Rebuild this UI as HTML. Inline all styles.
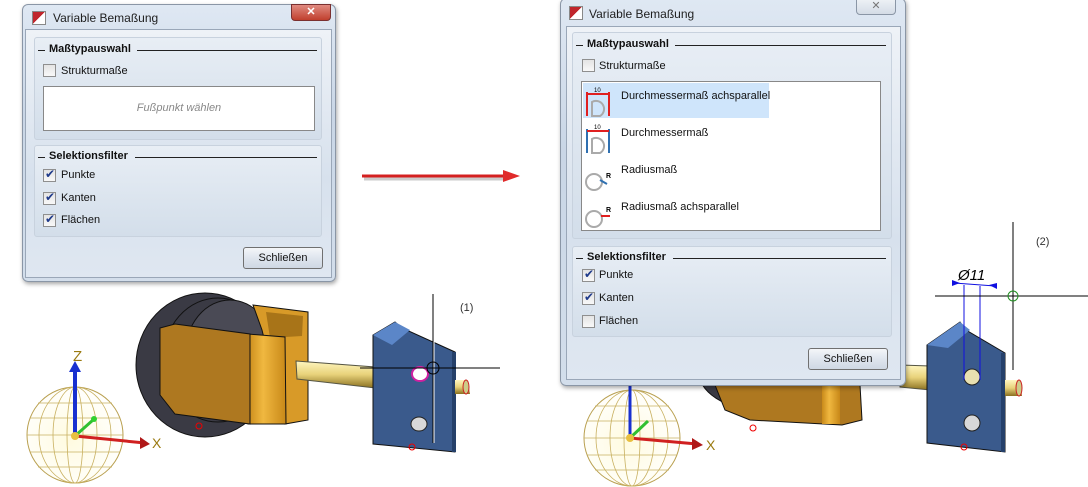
<!DOCTYPE html>
<html><head><meta charset="utf-8">
<style>
*{margin:0;padding:0;box-sizing:border-box}
body{width:1088px;height:487px;background:#fff;position:relative;overflow:hidden;font-family:"Liberation Sans",sans-serif;font-size:11px;color:#111}
.abs{position:absolute}
.dlg{position:absolute;border:1px solid #8a96a6;border-radius:6px;background:linear-gradient(#dfe8f3,#c9d6e6 40%,#d3deeb);box-shadow:1px 2px 4px rgba(0,0,0,.35)}
.body{position:absolute;border:1px solid #9aa7b8;background:linear-gradient(#eef2f7,#d7e1ed 60%,#dfe7f1)}
.grp{position:absolute;border:1px solid #c8d2de;border-radius:3px;background:linear-gradient(#e8eef5,#d3deea)}
.gt{position:absolute;font-weight:bold;font-size:11px;white-space:nowrap}
.line{position:absolute;height:1px;background:#222}
.cb{position:absolute;width:13px;height:13px;border:1px solid #8f8f8f;background:linear-gradient(#e4e4e4,#f8f8f8)}
.cb.on::after{content:"✔";position:absolute;left:1px;top:-3px;font-size:12px;color:#1f3a8a}
.lbl{position:absolute;white-space:nowrap;font-size:11px}
.btn{position:absolute;border:1px solid #707070;border-radius:3px;background:linear-gradient(#f4f6f9,#dfe5ee 50%,#cfd8e4);text-align:center;font-size:11px;line-height:20px}
.title{position:absolute;font-size:12px;color:#1e1e1e;white-space:nowrap}
.icon{position:absolute;width:14px;height:14px;background:linear-gradient(135deg,#c0262c 50%,#fff 50%);border:1px solid #888}
</style></head><body>

<svg class="abs" style="left:0;top:0" width="1088" height="487">
<defs>
<linearGradient id="rod" x1="0" y1="0" x2="0" y2="1"><stop offset="0" stop-color="#fff6c0"/><stop offset=".5" stop-color="#e8d27a"/><stop offset="1" stop-color="#8a7020"/></linearGradient>
<linearGradient id="side" x1="0" y1="0" x2="1" y2="0"><stop offset="0" stop-color="#c98a1a"/><stop offset=".4" stop-color="#f0b840"/><stop offset="1" stop-color="#c88818"/></linearGradient>
<radialGradient id="sph" cx=".45" cy=".55" r=".6"><stop offset="0" stop-color="#fffbe0"/><stop offset="1" stop-color="#fff"/></radialGradient>
</defs>
<!-- arrow -->
<line x1="364" y1="179" x2="506" y2="179" stroke="#999" stroke-width="3" opacity=".5"/>
<line x1="362" y1="176" x2="506" y2="176" stroke="#d42020" stroke-width="3"/>
<polygon points="503,170 520,176 503,182" fill="#e02a2a"/>

<!-- LEFT 3D -->
<g>
<ellipse cx="205" cy="365" rx="69" ry="72" fill="#3a3a44" stroke="#111"/>
<ellipse cx="218" cy="360" rx="55" ry="62" fill="none" stroke="#111"/>
<ellipse cx="230" cy="355" rx="45" ry="55" fill="#4a4a55" stroke="#111"/>
<polygon points="253,305 308,312 308,420 285,424 262,330" fill="#d89a28" stroke="#111"/>
<polygon points="266,312 303,316 302,336 270,338" fill="#a87418"/>
<polygon points="248,334 285,337 286,424 248,424" fill="url(#side)" stroke="#111"/>
<polygon points="160,328 175,324 250,334 250,424 175,414 160,395" fill="#ae7820" stroke="#111"/>
<polygon points="296,361 375,367 375,388 297,379" fill="url(#rod)" stroke="#554"/>
<polygon points="373,335 395,322 402,328 455,352 455,452 373,444" fill="#3a5a8c" stroke="#111"/>
<polygon points="373,335 395,322 410,330 392,345" fill="#5b86c8"/>
<polygon points="452,352 456,352 456,452 452,452" fill="#25406a"/>
<ellipse cx="420" cy="374" rx="8" ry="7" fill="#fff" stroke="#d020a0" stroke-width="2"/>
<ellipse cx="419" cy="424" rx="8" ry="7" fill="#d8d8d8" stroke="#222"/>
<polygon points="455,380 468,380 470,394 455,394" fill="url(#rod)"/>
<ellipse cx="466" cy="387" rx="3" ry="7" fill="#cc8" stroke="#c22"/>
<circle cx="199" cy="426" r="3" fill="none" stroke="#e00"/>
<circle cx="412" cy="447" r="3" fill="none" stroke="#e00"/>
<line x1="433" y1="294" x2="433" y2="443" stroke="#000"/>
<line x1="433" y1="300" x2="433" y2="443" stroke="#fff" stroke-width="1" transform="translate(1,0)"/>
<line x1="360" y1="368" x2="500" y2="368" stroke="#000"/>
<circle cx="433" cy="368" r="6" fill="none" stroke="#000"/>
<text x="460" y="311" font-size="11" fill="#333" font-family="Liberation Sans">(1)</text>
<!-- coord sphere -->
<circle cx="75" cy="435" r="48" fill="url(#sph)" stroke="#b9a050"/>
<g fill="none" stroke="#c8b060" stroke-width=".8">
<ellipse cx="75" cy="435" rx="36" ry="48"/><ellipse cx="75" cy="435" rx="22" ry="48"/><ellipse cx="75" cy="435" rx="8" ry="48"/>
<line x1="30" y1="418" x2="120" y2="418"/><line x1="27" y1="435" x2="123" y2="435"/><line x1="30" y1="452" x2="120" y2="452"/><line x1="38" y1="403" x2="112" y2="403"/><line x1="38" y1="467" x2="112" y2="467"/>
</g>
<line x1="75" y1="436" x2="75" y2="372" stroke="#1830d0" stroke-width="4"/>
<polygon points="69,372 75,361 81,372" fill="#1830d0"/>
<line x1="75" y1="436" x2="145" y2="443" stroke="#d02020" stroke-width="3"/>
<polygon points="140,437 150,444 140,449" fill="#b01818"/>
<line x1="75" y1="436" x2="93" y2="420" stroke="#30c030" stroke-width="3"/>
<circle cx="94" cy="419" r="3" fill="#30d030"/>
<circle cx="75" cy="436" r="4" fill="#e8c040"/>
<text x="73" y="361" font-size="15" fill="#9a7a10" font-family="Liberation Sans">Z</text>
<text x="152" y="448" font-size="14" fill="#9a7a10" font-family="Liberation Sans">X</text>
</g>

<!-- RIGHT 3D -->
<g>
<ellipse cx="760" cy="370" rx="62" ry="40" fill="#3a3a44" stroke="#111"/>
<polygon points="715,385 860,385 862,420 842,425 750,420 725,410" fill="#ae7820" stroke="#111"/>
<polygon points="822,385 840,385 840,424 822,424" fill="url(#side)"/>
<polygon points="900,365 930,366 930,390 900,387" fill="url(#rod)" stroke="#554"/>
<polygon points="927,345 960,322 966,330 1005,353 1005,452 927,443" fill="#3a5a8c" stroke="#111"/>
<polygon points="927,345 960,322 970,330 948,348" fill="#5b86c8"/>
<polygon points="1001,353 1005,353 1005,452 1001,452" fill="#25406a"/>
<ellipse cx="972" cy="377" rx="8" ry="8" fill="#e8e0b0" stroke="#222"/>
<ellipse cx="972" cy="423" rx="8" ry="8" fill="#d8d8d8" stroke="#222"/>
<polygon points="1005,380 1020,380 1022,396 1005,396" fill="url(#rod)"/>
<ellipse cx="1019" cy="388" rx="3" ry="8" fill="#cc8" stroke="#c22"/>
<circle cx="753" cy="428" r="3" fill="none" stroke="#e00"/>
<circle cx="964" cy="447" r="3" fill="none" stroke="#e00"/>
<line x1="964" y1="285" x2="964" y2="380" stroke="#1010e0"/>
<line x1="980" y1="286" x2="980" y2="380" stroke="#1010e0"/>
<line x1="954" y1="283" x2="995" y2="286" stroke="#1010e0"/>
<polygon points="952,280 960,283 952,286" fill="#1010e0"/>
<polygon points="997,283 989,285 997,289" fill="#1010e0"/>
<text x="958" y="280" font-size="15" fill="#000" font-family="Liberation Sans" font-style="italic">Ø11</text>
<line x1="935" y1="296" x2="1088" y2="296" stroke="#000"/>
<line x1="1013" y1="222" x2="1013" y2="370" stroke="#000"/>
<circle cx="1013" cy="296" r="5" fill="none" stroke="#209020"/>
<text x="1036" y="245" font-size="11" fill="#333" font-family="Liberation Sans">(2)</text>
<circle cx="632" cy="438" r="48" fill="url(#sph)" stroke="#b9a050"/>
<g fill="none" stroke="#c8b060" stroke-width=".8">
<ellipse cx="632" cy="438" rx="36" ry="48"/><ellipse cx="632" cy="438" rx="22" ry="48"/><ellipse cx="632" cy="438" rx="8" ry="48"/>
<line x1="587" y1="421" x2="677" y2="421"/><line x1="584" y1="438" x2="680" y2="438"/><line x1="587" y1="455" x2="677" y2="455"/><line x1="595" y1="406" x2="669" y2="406"/><line x1="595" y1="470" x2="669" y2="470"/>
</g>
<line x1="630" y1="438" x2="630" y2="380" stroke="#1830d0" stroke-width="3"/>
<line x1="630" y1="438" x2="697" y2="444" stroke="#d02020" stroke-width="3"/>
<polygon points="692,438 703,445 692,450" fill="#b01818"/>
<line x1="630" y1="438" x2="648" y2="421" stroke="#30c030" stroke-width="3"/>
<circle cx="630" cy="438" r="4" fill="#e8c040"/>
<text x="706" y="450" font-size="14" fill="#9a7a10" font-family="Liberation Sans">X</text>
</g>
</svg>

<!-- LEFT DIALOG -->
<div class="dlg" style="left:22px;top:4px;width:314px;height:278px">
 <div class="icon" style="left:9px;top:6px"></div>
 <div class="title" style="left:30px;top:6px">Variable Bemaßung</div>
 <div class="abs" style="left:268px;top:-1px;width:40px;height:17px;border:1px solid #7a3030;border-radius:0 0 4px 4px;background:linear-gradient(#e08a80,#c0402e);color:#fff;text-align:center;font-weight:bold;font-size:11px;line-height:15px">✕</div>
 <div class="body" style="left:2px;top:24px;width:307px;height:249px"></div>
 <div class="grp" style="left:11px;top:32px;width:288px;height:103px">
  <div class="gt" style="left:14px;top:5px">Maßtypauswahl</div>
  <div class="line" style="left:3px;top:12px;width:7px"></div>
  <div class="line" style="left:102px;top:12px;width:180px"></div>
  <div class="cb" style="left:8px;top:26px"></div>
  <div class="lbl" style="left:26px;top:27px">Strukturmaße</div>
  <div class="abs" style="left:8px;top:48px;width:272px;height:45px;background:#fff;border:1px solid #888;color:#888;font-style:italic;text-align:center;line-height:43px">Fußpunkt wählen</div>
 </div>
 <div class="grp" style="left:11px;top:140px;width:288px;height:92px">
  <div class="gt" style="left:14px;top:4px">Selektionsfilter</div>
  <div class="line" style="left:3px;top:11px;width:7px"></div>
  <div class="line" style="left:100px;top:11px;width:182px"></div>
  <div class="cb on" style="left:8px;top:23px"></div><div class="lbl" style="left:26px;top:23px">Punkte</div>
  <div class="cb on" style="left:8px;top:46px"></div><div class="lbl" style="left:26px;top:46px">Kanten</div>
  <div class="cb on" style="left:8px;top:68px"></div><div class="lbl" style="left:26px;top:68px">Flächen</div>
 </div>
 <div class="btn" style="left:220px;top:242px;width:80px;height:22px">Schließen</div>
</div>

<!-- RIGHT DIALOG -->
<div class="dlg" style="left:560px;top:-2px;width:346px;height:388px">
 <div class="icon" style="left:8px;top:7px"></div>
 <div class="title" style="left:28px;top:8px">Variable Bemaßung</div>
 <div class="abs" style="left:295px;top:-1px;width:40px;height:17px;border:1px solid #8a96a6;border-radius:0 0 4px 4px;background:linear-gradient(#eef2f6,#d4dce6);color:#777;text-align:center;font-size:11px;line-height:15px">✕</div>
 <div class="body" style="left:5px;top:27px;width:335px;height:354px"></div>
 <div class="grp" style="left:11px;top:33px;width:320px;height:207px">
  <div class="gt" style="left:14px;top:5px">Maßtypauswahl</div>
  <div class="line" style="left:3px;top:12px;width:7px"></div>
  <div class="line" style="left:102px;top:12px;width:211px"></div>
  <div class="cb" style="left:9px;top:26px"></div>
  <div class="lbl" style="left:26px;top:27px">Strukturmaße</div>
  <div class="abs" style="left:8px;top:48px;width:300px;height:150px;background:#fff;border:1px solid #888">
   <div class="abs" style="left:1px;top:1px;width:186px;height:35px;background:#cfe5fb"></div>
   <svg class="abs" style="left:2px;top:2px" width="30" height="150">
    <g><line x1="3" y1="8" x2="3" y2="32" stroke="#e02020" stroke-width="2"/><line x1="25" y1="8" x2="25" y2="32" stroke="#e02020" stroke-width="2"/><line x1="3" y1="10" x2="25" y2="10" stroke="#e02020" stroke-width="2"/><path d="M8 18 a8 8 0 1 1 8 14 h-8z" fill="none" stroke="#aaa" stroke-width="2"/><text x="10" y="8" font-size="6" font-family="Liberation Sans">10</text></g>
    <g transform="translate(0,37)"><line x1="3" y1="8" x2="3" y2="32" stroke="#3070b0" stroke-width="2"/><line x1="25" y1="8" x2="25" y2="32" stroke="#3070b0" stroke-width="2"/><line x1="3" y1="10" x2="25" y2="10" stroke="#e02020" stroke-width="2"/><path d="M8 18 a8 8 0 1 1 8 14 h-8z" fill="none" stroke="#aaa" stroke-width="2"/><text x="10" y="8" font-size="6" font-family="Liberation Sans">10</text></g>
    <g transform="translate(0,74)"><circle cx="10" cy="24" r="8" fill="none" stroke="#aaa" stroke-width="2"/><line x1="16" y1="22" x2="23" y2="26" stroke="#3070b0" stroke-width="2"/><text x="22" y="20" font-size="7" font-weight="bold" font-family="Liberation Sans">R</text></g>
    <g transform="translate(0,111)"><circle cx="10" cy="24" r="8" fill="none" stroke="#aaa" stroke-width="2"/><line x1="17" y1="21" x2="26" y2="21" stroke="#e02020" stroke-width="2"/><text x="22" y="17" font-size="7" font-weight="bold" font-family="Liberation Sans">R</text></g>
   </svg>
   <div class="lbl" style="left:39px;top:8px">Durchmessermaß achsparallel</div>
   <div class="lbl" style="left:39px;top:45px">Durchmessermaß</div>
   <div class="lbl" style="left:39px;top:82px">Radiusmaß</div>
   <div class="lbl" style="left:39px;top:119px">Radiusmaß achsparallel</div>
  </div>
 </div>
 <div class="grp" style="left:11px;top:247px;width:320px;height:91px">
  <div class="gt" style="left:14px;top:4px">Selektionsfilter</div>
  <div class="line" style="left:3px;top:11px;width:7px"></div>
  <div class="line" style="left:100px;top:11px;width:213px"></div>
  <div class="cb on" style="left:9px;top:22px"></div><div class="lbl" style="left:26px;top:22px">Punkte</div>
  <div class="cb on" style="left:9px;top:45px"></div><div class="lbl" style="left:26px;top:45px">Kanten</div>
  <div class="cb" style="left:9px;top:68px"></div><div class="lbl" style="left:26px;top:68px">Flächen</div>
 </div>
 <div class="btn" style="left:247px;top:349px;width:80px;height:22px">Schließen</div>
</div>
</body></html>
